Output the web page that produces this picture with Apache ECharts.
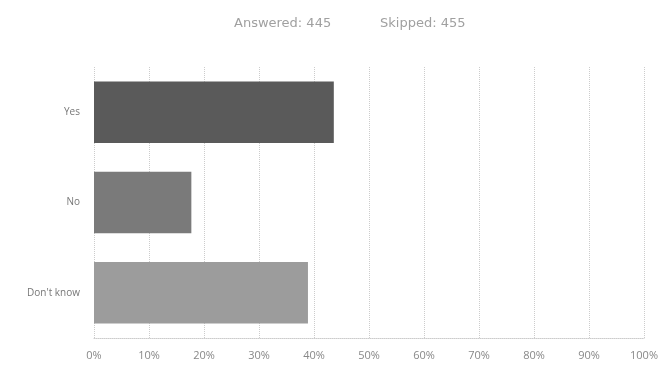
<!DOCTYPE html>
<html><head><meta charset="utf-8">
<script src="https://cdn.jsdelivr.net/npm/echarts@6/dist/echarts.min.js"></script>
<style>html,body{margin:0;padding:0;background:#fff}#c{width:661px;height:366px}</style>
</head><body><div id="c"></div>
<script>
var categories = ["Yes", "No", "Don't know"];
var values = [43.6, 17.7, 38.9];
var barColors = ["#5a5a5a", "#7a7a7a", "#9c9c9c"];
var xTicks = [0, 10, 20, 30, 40, 50, 60, 70, 80, 90, 100];
var answered = 445, skipped = 455;

var titleStyle = {color: '#a0a0a0', fontSize: 13, fontWeight: 'normal', fontFamily: 'DejaVu Sans'};
var chart = echarts.init(document.getElementById('c'));
chart.setOption({
  animation: false,
  title: [
    {text: 'Answered: ' + answered, left: 229, top: 12, textStyle: titleStyle},
    {text: 'Skipped: ' + skipped, left: 375, top: 12, textStyle: titleStyle}
  ],
  grid: {left: 94, right: 7, top: 67, bottom: 28},
  xAxis: {
    type: 'value', min: 0, max: 100, interval: 10,
    axisLabel: {formatter: '{value}%', color: '#888', fontSize: 11, fontFamily: 'Open Sans', margin: 12},
    axisLine: {show: true, lineStyle: {color: '#ccc', type: 'dotted'}},
    axisTick: {show: false},
    splitLine: {show: true, lineStyle: {color: '#ccc', type: 'dotted'}}
  },
  yAxis: {
    type: 'category', data: categories, inverse: true,
    axisLabel: {color: '#777', fontSize: 10, fontFamily: 'Open Sans', margin: 14},
    axisLine: {show: false}, axisTick: {show: false}, splitLine: {show: false}
  },
  series: [{
    type: 'bar', barCategoryGap: '32%',
    data: values.map(function (v, i) { return {value: v, itemStyle: {color: barColors[i]}}; })
  }]
});
</script></body></html>
